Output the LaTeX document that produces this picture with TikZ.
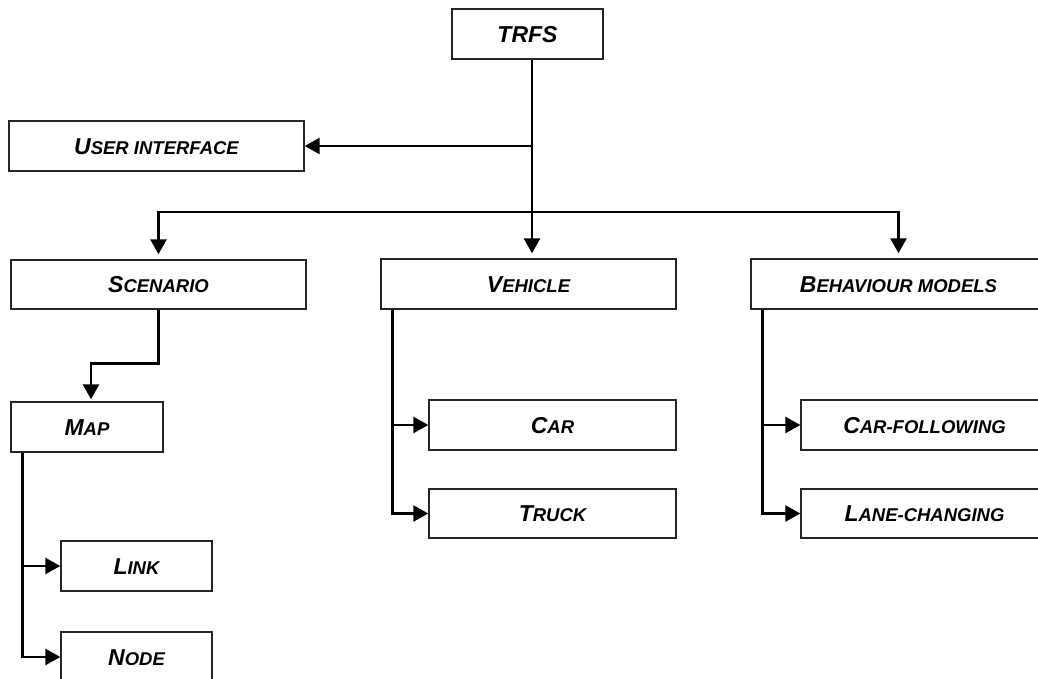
\documentclass[tikz,border=0pt]{standalone}
\usepackage{fontspec}
\setmainfont{Liberation Sans}
\usetikzlibrary{arrows.meta}
% larger first letter of each small-caps label
\newcommand{\initcap}[1]{{\fontsize{23}{23}\selectfont #1}}
\begin{document}
\begin{tikzpicture}[x=1pt,y=-1pt,
  box/.style={draw=black!85, line width=1.4pt, fill=white, minimum height=50pt,
    inner sep=0pt, font=\fontsize{18.5}{20}\selectfont\bfseries\itshape,
    text height=16.5pt, text depth=0pt},
  conn/.style={line width=2.6pt},
  arr/.style={conn, -{Triangle[length=15pt,width=16pt]}}]
\useasboundingbox (0,0) rectangle (1038,679);
\clip (0,0) rectangle (1038,679);

% modules
\node[box, minimum width=151pt] (trfs) at (527.5,34) {\initcap{TRFS}};
\node[box, minimum width=295pt] (ui) at (156.5,146) {\initcap{U}SER INTERFACE};
\node[box, minimum width=295pt, minimum height=49pt] (scen) at (158.5,284.5) {\initcap{S}CENARIO};
\node[box, minimum width=295pt] (veh) at (528.5,284) {\initcap{V}EHICLE};
\node[box, minimum width=295pt] (beh) at (898.5,284) {\initcap{B}EHAVIOUR MODELS};
\node[box, minimum width=152pt] (map) at (87,427) {\initcap{M}AP};
\node[box, minimum width=151pt] (link) at (136.5,566) {\initcap{L}INK};
\node[box, minimum width=151pt] (nd) at (136.5,657) {\initcap{N}ODE};
\node[box, minimum width=247pt] (car) at (552.5,425) {\initcap{C}AR};
\node[box, minimum width=247pt, minimum height=49pt] (truck) at (552.5,513.5) {\initcap{T}RUCK};
\node[box, minimum width=247pt] (cf) at (924.5,425) {\initcap{C}AR-FOLLOWING};
\node[box, minimum width=247pt, minimum height=49pt] (lc) at (924.5,513.5) {\initcap{L}ANE-CHANGING};

% main trunk and distribution bus
\coordinate (hub) at (532,212);
\draw[arr, shorten >=5pt] (trfs.south -| hub) -- (hub |- veh.north);
\draw[arr] (hub |- ui.east) -- (ui.east);
\draw[arr, shorten >=5pt] (hub) -| (scen.north);
\draw[arr, shorten >=5pt] (hub) -| (beh.north);

% scenario -> map
\draw[arr, shorten >=2pt] (scen.south) -- ++(0,54) -| ([xshift=4pt]map.north);

% map -> link, node
\coordinate (mapx) at ([xshift=12pt]map.south west);
\draw[arr] (mapx) |- (nd.west);
\draw[arr] (mapx |- link.west) -- (link.west);

% vehicle -> car, truck
\coordinate (vehx) at ([xshift=12pt]veh.south west);
\draw[arr] (vehx) |- (truck.west);
\draw[arr] (vehx |- car.west) -- (car.west);

% behaviour models -> car-following, lane-changing
\coordinate (behx) at ([xshift=12pt]beh.south west);
\draw[arr] (behx) |- (lc.west);
\draw[arr] (behx |- cf.west) -- (cf.west);
\end{tikzpicture}
\end{document}
